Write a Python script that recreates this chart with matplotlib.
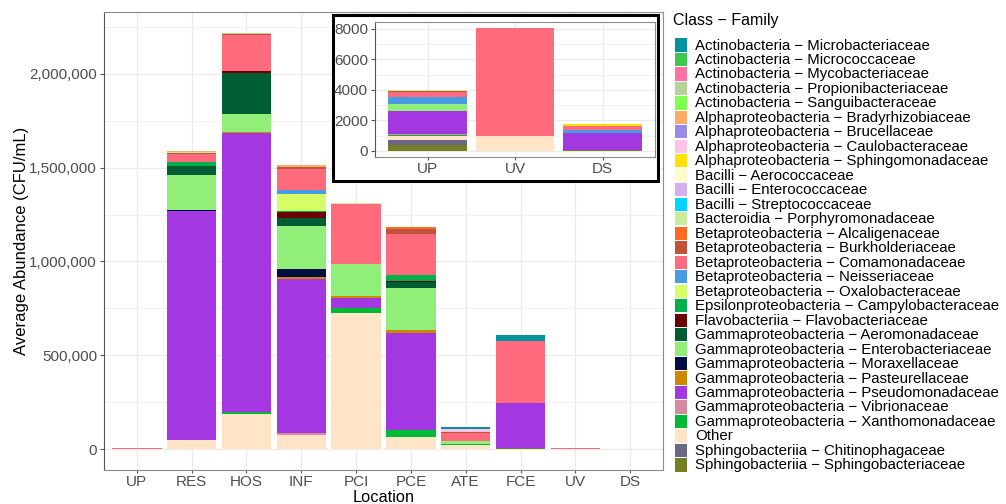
import numpy as np
import matplotlib.pyplot as plt
from matplotlib.patches import Rectangle
from matplotlib.ticker import FuncFormatter, MultipleLocator

plt.rcParams['font.family'] = ['Liberation Sans', 'DejaVu Sans']

locations = ["UP", "RES", "HOS", "INF", "PCI", "PCE", "ATE", "FCE", "UV", "DS"]
inset_locations = ["UP", "UV", "DS"]

# average abundance (CFU/mL) per family, columns follow `locations`
microbacteriaceae   = [0, 0, 0, 0, 0, 0, 9000, 35000, 0, 0]
micrococcaceae      = [0, 0, 0, 0, 0, 0, 0, 0, 0, 0]
mycobacteriaceae    = [0, 0, 0, 0, 0, 0, 0, 0, 0, 0]
propionibacteriaceae = [0, 0, 6000, 0, 0, 0, 0, 0, 0, 0]
sanguibacteraceae   = [0, 0, 0, 0, 0, 0, 0, 0, 0, 0]
bradyrhizobiaceae   = [0, 2000, 0, 9000, 0, 0, 0, 0, 0, 0]
brucellaceae        = [0, 0, 0, 0, 0, 0, 0, 0, 0, 0]
caulobacteraceae    = [0, 0, 0, 0, 0, 0, 14000, 0, 0, 0]
sphingomonadaceae   = [0, 0, 0, 0, 0, 0, 0, 0, 0, 150]
aerococcaceae       = [0, 0, 0, 0, 0, 0, 0, 0, 0, 0]
enterococcaceae     = [0, 0, 0, 0, 0, 0, 0, 0, 0, 0]
streptococcaceae    = [0, 0, 0, 0, 0, 0, 0, 0, 0, 0]
porphyromonadaceae  = [100, 5000, 0, 0, 6000, 0, 0, 0, 0, 0]
alcaligenaceae      = [0, 2000, 0, 0, 0, 9000, 5000, 0, 0, 0]
burkholderiaceae    = [60, 5000, 7000, 9000, 0, 27000, 3000, 0, 0, 0]
comamonadaceae      = [320, 41000, 188000, 115000, 315000, 216000, 44000, 331000, 7040, 250]
neisseriaceae       = [410, 0, 0, 18000, 0, 3000, 0, 0, 0, 190]
oxalobacteraceae    = [0, 0, 0, 92000, 0, 0, 0, 0, 0, 0]
campylobacteraceae  = [0, 21000, 5000, 5000, 0, 28000, 0, 0, 0, 0]
flavobacteriaceae   = [0, 0, 9000, 34000, 0, 5000, 0, 0, 0, 0]
aeromonadaceae      = [0, 48000, 219000, 39000, 3000, 32000, 0, 0, 0, 0]
enterobacteriaceae  = [470, 186000, 92000, 232000, 172000, 226000, 16000, 0, 0, 0]
moraxellaceae       = [0, 5000, 0, 42000, 0, 0, 0, 0, 0, 40]
pasteurellaceae     = [0, 0, 7000, 12000, 11000, 16000, 0, 0, 0, 0]
pseudomonadaceae    = [1530, 1220000, 1485000, 820000, 50000, 518000, 0, 238000, 0, 1100]
vibrionaceae        = [30, 0, 0, 8000, 3000, 0, 0, 0, 0, 0]
xanthomonadaceae    = [120, 0, 12000, 0, 27000, 35000, 3000, 2000, 0, 0]
other               = [230, 48000, 185000, 74000, 720000, 63000, 20000, 0, 1000, 0]
chitinophagaceae    = [340, 0, 0, 0, 0, 0, 0, 0, 0, 0]
sphingobacteriaceae = [380, 3000, 3000, 3000, 3000, 3000, 3000, 4000, 0, 50]

families = [
    "Actinobacteria − Microbacteriaceae",
    "Actinobacteria − Micrococcaceae",
    "Actinobacteria − Mycobacteriaceae",
    "Actinobacteria − Propionibacteriaceae",
    "Actinobacteria − Sanguibacteraceae",
    "Alphaproteobacteria − Bradyrhizobiaceae",
    "Alphaproteobacteria − Brucellaceae",
    "Alphaproteobacteria − Caulobacteraceae",
    "Alphaproteobacteria − Sphingomonadaceae",
    "Bacilli − Aerococcaceae",
    "Bacilli − Enterococcaceae",
    "Bacilli − Streptococcaceae",
    "Bacteroidia − Porphyromonadaceae",
    "Betaproteobacteria − Alcaligenaceae",
    "Betaproteobacteria − Burkholderiaceae",
    "Betaproteobacteria − Comamonadaceae",
    "Betaproteobacteria − Neisseriaceae",
    "Betaproteobacteria − Oxalobacteraceae",
    "Epsilonproteobacteria − Campylobacteraceae",
    "Flavobacteriia − Flavobacteriaceae",
    "Gammaproteobacteria − Aeromonadaceae",
    "Gammaproteobacteria − Enterobacteriaceae",
    "Gammaproteobacteria − Moraxellaceae",
    "Gammaproteobacteria − Pasteurellaceae",
    "Gammaproteobacteria − Pseudomonadaceae",
    "Gammaproteobacteria − Vibrionaceae",
    "Gammaproteobacteria − Xanthomonadaceae",
    "Other",
    "Sphingobacteriia − Chitinophagaceae",
    "Sphingobacteriia − Sphingobacteriaceae",
]

values = np.array([
    microbacteriaceae, micrococcaceae, mycobacteriaceae, propionibacteriaceae,
    sanguibacteraceae, bradyrhizobiaceae, brucellaceae, caulobacteraceae,
    sphingomonadaceae, aerococcaceae, enterococcaceae, streptococcaceae,
    porphyromonadaceae, alcaligenaceae, burkholderiaceae, comamonadaceae,
    neisseriaceae, oxalobacteraceae, campylobacteraceae, flavobacteriaceae,
    aeromonadaceae, enterobacteriaceae, moraxellaceae, pasteurellaceae,
    pseudomonadaceae, vibrionaceae, xanthomonadaceae, other,
    chitinophagaceae, sphingobacteriaceae,
], dtype=float)

colors = [
    "#00929E", "#3CC84C", "#FF72A8", "#B6D397", "#7FFF4F",
    "#FDAA66", "#9B8AE8", "#F9C4E6", "#FFE200", "#FFFCCC",
    "#D2AFEE", "#00D3FF", "#C9EE99", "#FF6A22", "#BF533B",
    "#FF6A7D", "#479CE4", "#D6FF66", "#00B14B", "#6B0000",
    "#005C33", "#91EE79", "#000E45", "#CD8800", "#A537E3",
    "#D78BA0", "#00BA33", "#FFE4C7", "#6A6885", "#747F23",
]

grey_text = "#4D4D4D"
W, H = 1006, 504


def stacked(ax, cols):
    x = np.arange(len(cols))
    sub = values[:, cols]
    # first legend entry sits on top of the stack
    tops = np.cumsum(sub[::-1], axis=0)[::-1]
    for i in range(len(families)):
        ax.bar(x, sub[i], width=0.9, bottom=tops[i] - sub[i], color=colors[i],
               linewidth=0, zorder=2)
    return x, tops[0]


def style(ax, spacing):
    ax.set_facecolor("white")
    ax.yaxis.set_minor_locator(MultipleLocator(spacing / 2))
    ax.grid(True, which="major", color="#EBEBEB", linewidth=1.0, zorder=0)
    ax.grid(True, which="minor", axis="y", color="#F2F2F2", linewidth=0.8, zorder=0)
    ax.set_axisbelow(True)
    for side in ["top", "right"]:
        ax.spines[side].set_color("#8C8C8C")
    ax.spines["left"].set_color("#555555")
    ax.spines["bottom"].set_color("#8C8C8C")
    ax.tick_params(axis="both", which="major", length=3, color="#555555",
                   labelcolor=grey_text, labelsize=11, pad=2)
    ax.tick_params(axis="x", which="major", length=2.5, pad=1)
    ax.tick_params(axis="y", which="minor", length=0)


fig = plt.figure(figsize=(W / 100, H / 100), dpi=100)

ax = fig.add_axes([104 / W, 1 - 470 / H, 559 / W, 458 / H])
cols = list(range(len(locations)))
x, totals = stacked(ax, cols)
ax.set_xticks(x)
ax.set_xticklabels(locations)
ax.set_xlim(-0.6, len(locations) - 0.4)
ax.set_ylim(-0.05 * totals.max(), 1.05 * totals.max())
ax.set_yticks([0, 500000, 1000000, 1500000, 2000000])
ax.yaxis.set_major_formatter(FuncFormatter(lambda v, p: f"{int(v):,}"))
style(ax, 500000)
ax.set_xlabel("Location", fontsize=11.8, va="baseline")
ax.xaxis.set_label_coords(0.5, (470 - 501.5) / 458)
ax.set_ylabel("Average Abundance (CFU/mL)", fontsize=12, va="center")
ax.yaxis.set_label_coords((22 - 104) / 559, 0.5)

# framed box around the inset
box = Rectangle((333 / W, 1 - 181 / H), 325 / W, 166 / H,
                transform=fig.transFigure, facecolor="white",
                edgecolor="black", linewidth=2.2, zorder=1)
fig.patches.append(box)

axin = fig.add_axes([375 / W, 1 - 157 / H, 280 / W, 135 / H])
axin.set_zorder(2)
icols = [locations.index(l) for l in inset_locations]
xi, itotals = stacked(axin, icols)
axin.set_xticks(xi)
axin.set_xticklabels(inset_locations)
axin.set_xlim(-0.6, len(inset_locations) - 0.4)
axin.set_ylim(-0.05 * itotals.max(), 1.05 * itotals.max())
axin.set_yticks([0, 2000, 4000, 6000, 8000])
style(axin, 2000)

# legend drawn as keys and labels in figure pixels
fig.text(673 / W, 1 - 20 / H, "Class − Family", fontsize=11.5,
         ha="left", va="center")
row = 14.48
for i, (fam, col) in enumerate(zip(families, colors)):
    yc = 45 + i * row
    fig.patches.append(Rectangle((675 / W, 1 - (yc + 6.6) / H), 12 / W, 13.2 / H,
                                 transform=fig.transFigure, facecolor=col,
                                 edgecolor="none"))
    fig.text(695 / W, 1 - (yc + 0.5) / H, fam, fontsize=10.8,
             ha="left", va="center")

fig.savefig("out.png", dpi=100, facecolor="white")
